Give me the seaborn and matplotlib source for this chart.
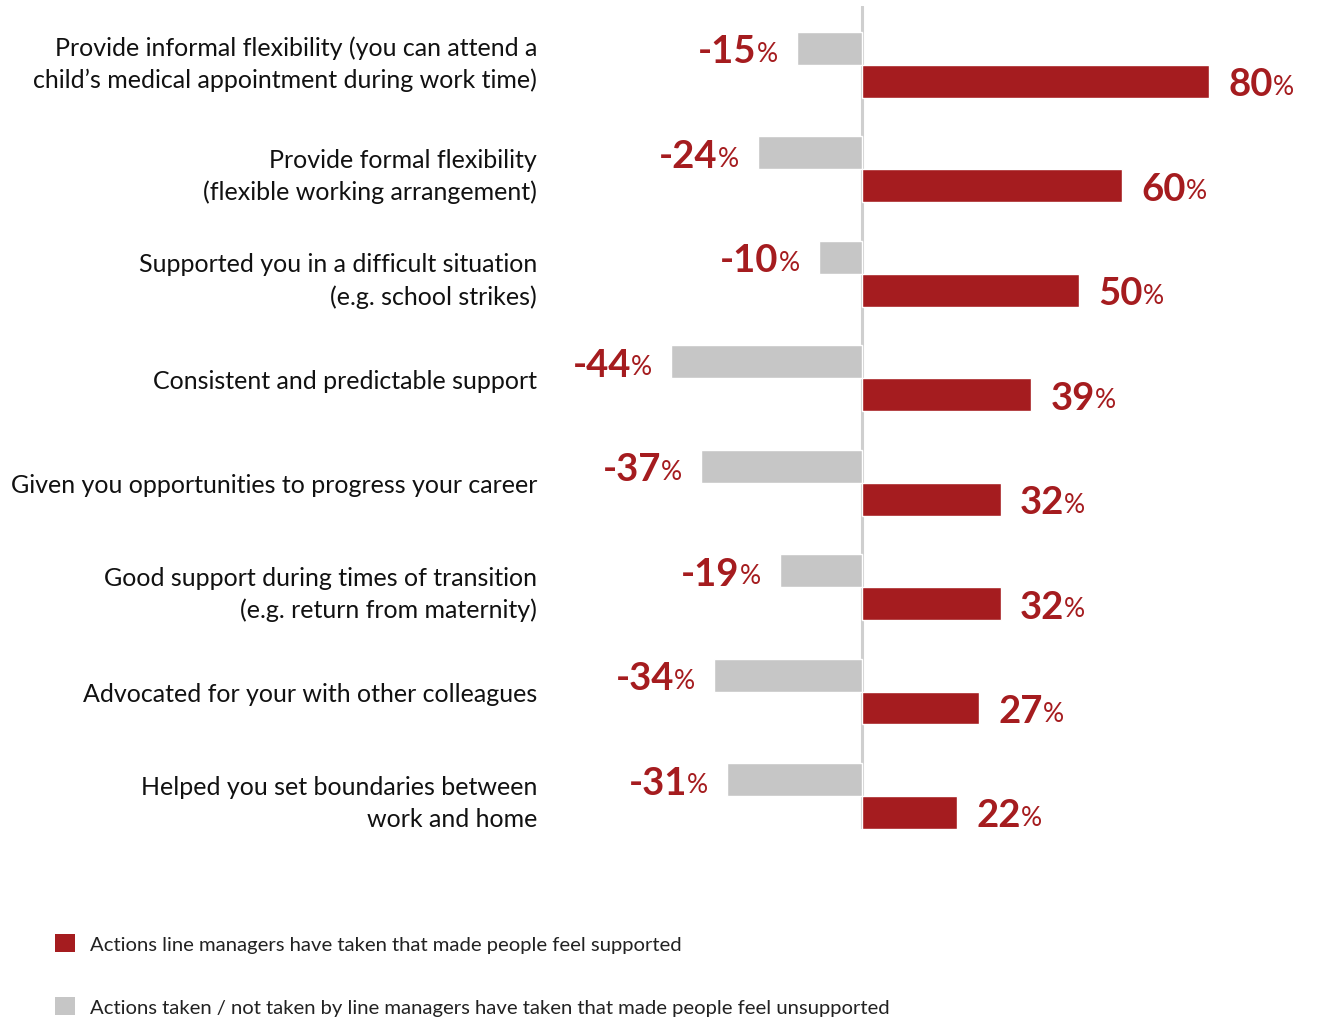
import matplotlib
matplotlib.use("Agg")
import matplotlib.pyplot as plt
import matplotlib.transforms as mtransforms
from matplotlib.patches import Patch
import seaborn as sns
import pandas as pd

# ---- data -------------------------------------------------------------
categories = [
    "Provide informal flexibility (you can attend a\nchild\u2019s medical appointment during work time)",
    "Provide formal flexibility\n(flexible working arrangement)",
    "Supported you in a difficult situation\n(e.g. school strikes)",
    "Consistent and predictable support",
    "Given you opportunities to progress your career",
    "Good support during times of transition\n(e.g. return from maternity)",
    "Advocated for your with other colleagues",
    "Helped you set boundaries between\nwork and home",
]
unsupported = [-15, -24, -10, -44, -37, -19, -34, -31]
supported = [80, 60, 50, 39, 32, 32, 27, 22]

series_names = [
    "Actions taken / not taken by line managers have taken that made people feel unsupported",
    "Actions line managers have taken that made people feel supported",
]

RED = "#a51c1f"
GREY = "#c6c6c6"
FONT = "Lato"

df = pd.DataFrame({
    "category": categories * 2,
    "series": [series_names[0]] * len(categories) + [series_names[1]] * len(categories),
    "value": unsupported + supported,
})

sns.set_style("white")
plt.rcParams["font.family"] = [FONT, "DejaVu Sans"]

W, H, DPI = 1318, 1020, 100
fig = plt.figure(figsize=(W / DPI, H / DPI), dpi=DPI)
ax = fig.add_axes([570 / W, 190 / H, 1 - 570 / W, (1013 - 190) / H])

sns.barplot(
    data=df, y="category", x="value", hue="series", order=categories,
    hue_order=series_names, palette=[GREY, RED], orient="h",
    width=0.63, dodge=True, saturation=1, ax=ax, legend=False,
)

px_per_unit = 4.34
ax.set_xlim(-(862 - 570) / px_per_unit, (W - 862) / px_per_unit)
ax.set_ylim(len(categories) - 1 + 0.316, -0.564)
ax.axvline(0, color="#cfcfcf", lw=2.2, zorder=0)

for s in ax.spines.values():
    s.set_visible(False)
ax.set_xticks([])
ax.set_xlabel("")
ax.set_ylabel("")
ax.tick_params(axis="y", length=0, pad=33 * 72 / DPI)
ax.set_yticks(range(len(categories)))
ax.set_yticklabels(categories, fontsize=18, color="#111111", linespacing=1.45)

# the first (long) label sits a little higher than its bar pair
first = ax.get_yticklabels()[0]
first.set_transform(first.get_transform()
                    + mtransforms.ScaledTranslation(0, 8 / DPI, fig.dpi_scale_trans))

# ---- value labels -----------------------------------------------------
NUM_SIZE, PCT_SIZE = 27.5, 19
renderer = fig.canvas.get_renderer()
probe = ax.text(0, 0, "%", fontsize=PCT_SIZE, fontfamily=FONT)
pct_w = probe.get_window_extent(renderer).width
probe.remove()
to_pt = 72 / DPI
half = 0.63 / 4


def add_label(value, ycen, positive):
    if positive:
        off = 19 * to_pt
    else:
        off = -(19 + pct_w) * to_pt
    num = ax.annotate(
        f"{value}", xy=(value, ycen), xytext=(off, 0), textcoords="offset points",
        ha="left" if positive else "right", va="center_baseline",
        fontsize=NUM_SIZE, fontweight="bold", color=RED, fontfamily=FONT,
    )
    ax.annotate(
        "%", xy=(1, 0), xycoords=num, xytext=(0, 1.7), textcoords="offset points",
        ha="left", va="bottom", fontsize=PCT_SIZE, color=RED, fontfamily=FONT,
    )


for i, (u, s) in enumerate(zip(unsupported, supported)):
    add_label(u, i - half, False)
    add_label(s, i + half, True)

# ---- legend -----------------------------------------------------------
handles = [Patch(facecolor=RED, edgecolor="none"), Patch(facecolor=GREY, edgecolor="none")]
fig.legend(
    handles, [series_names[1], series_names[0]],
    loc="upper left", bbox_to_anchor=(55 / W, 1 - 935 / H),
    frameon=False, fontsize=14.6, handlelength=1.0, handleheight=1.0,
    handletextpad=0.75, labelspacing=2.15, borderpad=0, borderaxespad=0,
    labelcolor="#222222",
)

fig.savefig("out.png", dpi=DPI)
